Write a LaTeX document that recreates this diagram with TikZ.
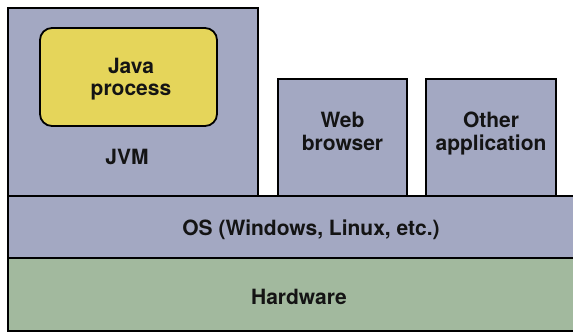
\documentclass[tikz,border=0pt]{standalone}
\usepackage{fontspec}
\setmainfont{TeX Gyre Heros}
\definecolor{layerblue}{HTML}{A3A8C2}
\definecolor{procyellow}{HTML}{E5D55A}
\definecolor{hwgreen}{HTML}{A2B99E}
\begin{document}
\begin{tikzpicture}[x=1pt,y=-1pt,
  box/.style={draw=black,line width=1.8pt,fill=layerblue},
  lbl/.style={font=\fontsize{21}{22.5}\selectfont\bfseries,align=center,text=black!92,inner sep=0pt}]
\useasboundingbox (0,0) rectangle (573,333);
\draw[box,fill=hwgreen] (8,258) rectangle (600,331);
\draw[box] (8,196) rectangle (600,258);
\draw[box] (8,8) rectangle (258,196);
\draw[box] (278,79) rectangle (407,196);
\draw[box] (426,79) rectangle (556,196);
\draw[draw=black,line width=1.8pt,fill=procyellow,rounded corners=12pt] (40,28) rectangle (217,126);
\node[lbl,anchor=base] (java) at (131,95.5) {Java\\process};
\node[lbl,anchor=base] (jvm) at (127,164) {JVM};
\node[lbl,anchor=base] (web) at (342.5,150) {Web\\browser};
\node[lbl,anchor=base] (other) at (491,150) {Other\\application};
\node[lbl] (os) at (311,230) {OS (Windows, Linux, etc.)};
\node[lbl] (hw) at (299,297) {Hardware};
\end{tikzpicture}
\end{document}
